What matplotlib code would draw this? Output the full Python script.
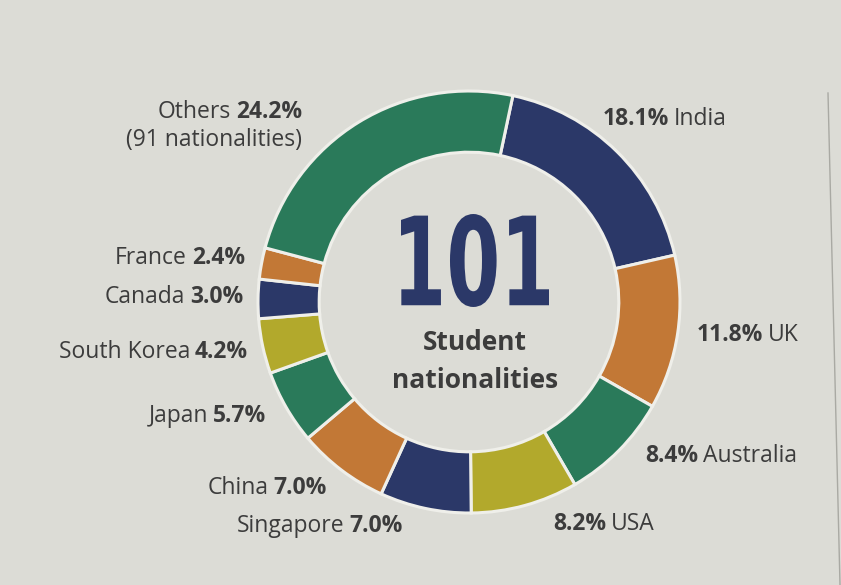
import matplotlib.pyplot as plt
from matplotlib.textpath import TextPath
from matplotlib.patches import PathPatch
from matplotlib.font_manager import FontProperties
from matplotlib.transforms import Affine2D

# data
countries = ['India', 'UK', 'Australia', 'USA', 'Singapore', 'China',
             'Japan', 'South Korea', 'Canada', 'France', 'Others']
shares = [18.1, 11.8, 8.4, 8.2, 7.0, 7.0, 5.7, 4.2, 3.0, 2.4, 24.2]
total_nationalities = 101
others_nationalities = 91

navy = '#2b3868'
orange = '#c27836'
green = '#2a7a5a'
olive = '#b2a92c'
colors = [navy, orange, green, olive, navy, orange, green, olive, navy, orange, green]

bg = '#dcdcd6'
txt = '#3c3c3c'

# where each label sits (pixel coords, y down) and which side of the ring it is on
label_pos = {
    'India': (603, 119, 'left'),
    'UK': (697, 335, 'left'),
    'Australia': (645, 456, 'left'),
    'USA': (553, 524, 'left'),
    'Singapore': (403, 526, 'right'),
    'China': (327, 488, 'right'),
    'Japan': (266, 416, 'right'),
    'South Korea': (248, 352, 'right'),
    'Canada': (243, 297, 'right'),
    'France': (245, 258, 'right'),
    'Others': (302, 112, 'right'),
}

W, H = 841, 585
fig = plt.figure(figsize=(W / 100, H / 100), dpi=100)
fig.patch.set_facecolor(bg)

ax = fig.add_axes([0, 0, 1, 1])
ax.set_xlim(0, W)
ax.set_ylim(H, 0)
ax.axis('off')

# ring, centre (469, 302), outer radius 211 px
cx, cy, r = 469, 302, 211
ax_pie = fig.add_axes([(cx - r) / W, (H - cy - r) / H, 2 * r / W, 2 * r / H])
ax_pie.pie(shares, colors=colors, startangle=78, counterclock=False,
           wedgeprops=dict(width=0.29, edgecolor='#efefea', linewidth=2.2))
ax_pie.set_xlim(-1, 1)
ax_pie.set_ylim(-1, 1)
ax_pie.axis('off')

label_font = ['Open Sans', 'DejaVu Sans']
fs = 16.5

for name, val in zip(countries, shares):
    x, y, side = label_pos[name]
    pct = ax.text(x, y, f'{val:.1f}%', ha=side, va='center', fontsize=fs,
                  fontweight='bold', color=txt, family=label_font)
    if side == 'right':
        ax.annotate(name, xy=(0, 0), xycoords=pct, xytext=(-3.5, 0),
                    textcoords='offset points', ha='right', va='bottom',
                    fontsize=fs, color=txt, family=label_font)
    else:
        ax.annotate(name, xy=(1, 0), xycoords=pct, xytext=(3.5, 0),
                    textcoords='offset points', ha='left', va='bottom',
                    fontsize=fs, color=txt, family=label_font)

ox, oy, _ = label_pos['Others']
ax.text(ox, oy + 28, f'({others_nationalities} nationalities)', ha='right', va='center',
        fontsize=fs, color=txt, family=label_font)

# big centre number, a condensed look made by squeezing the glyph outlines
tp = TextPath((0, 0), str(total_nationalities), size=1,
              prop=FontProperties(family='DejaVu Sans', weight='bold'))
ext = tp.get_extents()
x0, x1, top, bottom = 401, 549, 214, 307
sx = (x1 - x0) / ext.width
sy = (bottom - top) / ext.height
tr = Affine2D().translate(-ext.x0, -ext.y0).scale(sx, -sy).translate(x0, bottom)
ax.add_patch(PathPatch(tr.transform_path(tp), facecolor=navy, edgecolor='none'))

ax.text(475, 343, 'Student', ha='center', va='center', fontsize=19,
        fontweight='bold', color=txt, family=label_font)
ax.text(475, 381, 'nationalities', ha='center', va='center', fontsize=19,
        fontweight='bold', color=txt, family=label_font)

# page edge seen in the photo
ax.plot([828, 840], [93, 585], color='#a9a9a3', lw=1)

fig.savefig('out.png', dpi=100, facecolor=bg)
